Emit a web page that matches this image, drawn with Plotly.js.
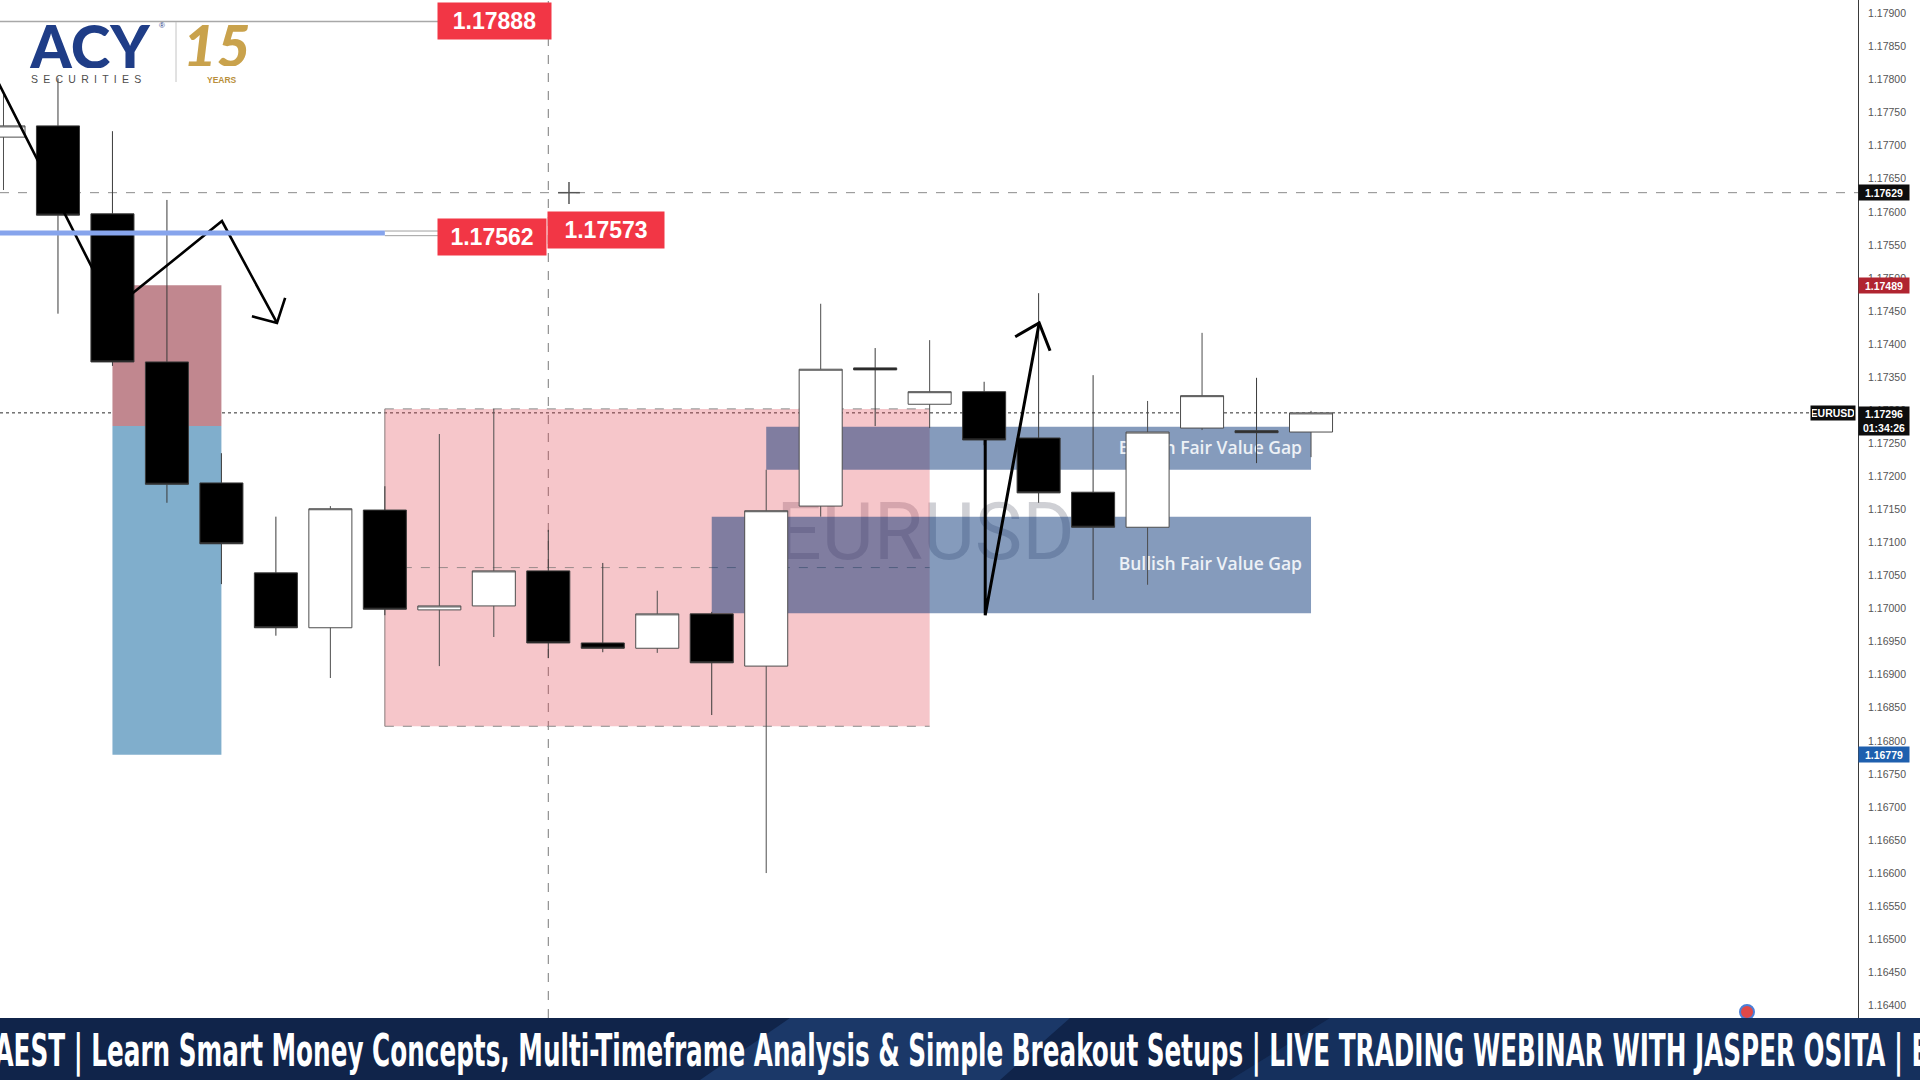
<!DOCTYPE html>
<html>
<head>
<meta charset="utf-8">
<script src="https://cdn.plot.ly/plotly-3.0.1.min.js"></script>
<style>
  html, body { margin: 0; padding: 0; background: #ffffff; overflow: hidden; }
  #chart { width: 1920px; height: 1080px; }
</style>
</head>
<body>
<div id="chart"></div>
<script>
// ---------------- data ----------------
const candleIndex = [0, 1, 2, 3, 4, 5, 6, 7, 8, 9, 10, 11, 12, 13, 14, 15, 16, 17, 18, 19, 20, 21, 22, 23, 24];
const openPrice  = [1.17713, 1.17730, 1.17597, 1.17373, 1.17190, 1.17054, 1.16971, 1.17149, 1.16998, 1.17004, 1.17057, 1.16948, 1.16940, 1.16992, 1.16913, 1.17155, 1.17364, 1.17309, 1.17328, 1.17258, 1.17176, 1.17123, 1.17273, 1.17269, 1.17267];
const highPrice  = [1.17781, 1.17802, 1.17722, 1.17618, 1.17235, 1.17139, 1.17155, 1.17185, 1.17264, 1.17302, 1.17119, 1.17069, 1.17027, 1.16995, 1.17210, 1.17461, 1.17394, 1.17406, 1.17343, 1.17477, 1.17353, 1.17314, 1.17417, 1.17349, 1.17299];
const lowPrice   = [1.17633, 1.17446, 1.17367, 1.17160, 1.17037, 1.16959, 1.16895, 1.16990, 1.16913, 1.16957, 1.16925, 1.16934, 1.16933, 1.16839, 1.16600, 1.17139, 1.17276, 1.17273, 1.17247, 1.17160, 1.17013, 1.17036, 1.17270, 1.17220, 1.17229];
const closePrice = [1.17730, 1.17595, 1.17373, 1.17188, 1.17098, 1.16971, 1.17151, 1.16999, 1.17004, 1.17057, 1.16948, 1.16940, 1.16992, 1.16918, 1.17148, 1.17362, 1.17361, 1.17328, 1.17255, 1.17175, 1.17123, 1.17267, 1.17322, 1.17266, 1.17296];

// price levels shown on the chart
const lastPrice = 1.17296;
const crossPrice = 1.17629;
const highLevel = 1.17888;
const blueLevel = 1.17562;
const blueLevelTag = 1.17573;
const positionStop = 1.17489;
const positionEntry = 1.17276;
const positionTarget = 1.16779;
const rangeZone = [1.16822, 1.17302];
const fvgUpper = [1.17210, 1.17275];
const fvgLower = [1.16993, 1.17139];
const yTickStart = 1.16400;
const yTickStep = 0.0005;

// hand-drawn arrow paths (candle index, price)
const arrowDownX = [-0.16, 2.01, 4.01, 5.02];
const arrowDownY = [1.17806, 1.17453, 1.17586, 1.17432];
const arrowDownHeadX = [4.56, 5.02, 5.17];
const arrowDownHeadY = [1.17442, 1.17432, 1.17470];
const arrowUpX = [18.02, 18.02, 19.01];
const arrowUpY = [1.17255, 1.16990, 1.17432];
const arrowUpHeadX = [18.57, 19.01, 19.21];
const arrowUpHeadY = [1.17411, 1.17432, 1.17390];

const bannerText = 'AEST | Learn Smart Money Concepts, Multi-Timeframe Analysis &amp; Simple Breakout Setups | LIVE TRADING WEBINAR WITH JASPER OSITA | E';

// ---------------- helpers for decoration placement (pixels -> paper) ----------------
const PW = 1858, PH = 1018;
const PX = v => v / PW;
const PY = v => 1 - v / PH;

const traces = [
  {
    type: 'candlestick',
    x: candleIndex, open: openPrice, high: highPrice, low: lowPrice, close: closePrice,
    increasing: { line: { color: '#4d4d4d', width: 1 }, fillcolor: '#ffffff' },
    decreasing: { line: { color: '#3a3a3a', width: 1 }, fillcolor: '#000000' },
    whiskerwidth: 0,
    hoverinfo: 'skip',
    showlegend: false
  },
  {
    type: 'scatter', mode: 'lines',
    x: arrowDownX.concat([null], arrowDownHeadX),
    y: arrowDownY.concat([null], arrowDownHeadY),
    line: { color: '#000000', width: 2.6 },
    hoverinfo: 'skip', showlegend: false
  },
  {
    type: 'scatter', mode: 'lines',
    x: arrowUpX.concat([null], arrowUpHeadX),
    y: arrowUpY.concat([null], arrowUpHeadY),
    line: { color: '#000000', width: 3 },
    hoverinfo: 'skip', showlegend: false
  }
];

const fvgLabel = {
  text: 'Bullish Fair Value Gap',
  textposition: 'middle right',
  padding: 6,
  font: { family: 'Open Sans, sans-serif', size: 17.5, color: '#edf1f6', weight: 600 }
};

const shapes = [
  // watermark
  { type: 'rect', layer: 'below', xref: 'x', yref: 'y', x0: 15.9, x1: 17.95, y0: 1.17095, y1: 1.17155,
    line: { width: 0 }, fillcolor: 'rgba(0,0,0,0)',
    label: { text: 'EURUSD', textposition: 'middle center',
             font: { family: 'Roboto, sans-serif', size: 80, color: 'rgba(95,100,115,0.30)' } } },
  // range zone
  { type: 'rect', layer: 'below', xref: 'x', yref: 'y', x0: 7, x1: 17, y0: rangeZone[0], y1: rangeZone[1],
    line: { width: 0 }, fillcolor: 'rgba(225,70,85,0.31)' },
  { type: 'line', layer: 'below', xref: 'x', yref: 'y', x0: 7, x1: 17, y0: rangeZone[1], y1: rangeZone[1],
    line: { color: '#8a8a8a', width: 1, dash: 'dash' } },
  { type: 'line', layer: 'below', xref: 'x', yref: 'y', x0: 7, x1: 17, y0: rangeZone[0], y1: rangeZone[0],
    line: { color: '#8a8a8a', width: 1, dash: 'dash' } },
  { type: 'line', layer: 'below', xref: 'x', yref: 'y', x0: 7, x1: 17, y0: (rangeZone[0] + rangeZone[1]) / 2, y1: (rangeZone[0] + rangeZone[1]) / 2,
    line: { color: '#9a8a8a', width: 1, dash: 'dash' } },
  { type: 'line', layer: 'below', xref: 'x', yref: 'y', x0: 7, x1: 7, y0: rangeZone[0], y1: rangeZone[1],
    line: { color: '#8a7a7a', width: 1 } },
  // short position tool
  { type: 'rect', layer: 'below', xref: 'x', yref: 'y', x0: 2, x1: 4, y0: positionEntry, y1: positionStop,
    line: { width: 0 }, fillcolor: '#c1878f' },
  { type: 'rect', layer: 'below', xref: 'x', yref: 'y', x0: 2, x1: 4, y0: positionTarget, y1: positionEntry,
    line: { width: 0 }, fillcolor: '#80aecc' },
  // fair value gaps
  { type: 'rect', layer: 'below', xref: 'x', yref: 'y', x0: 14, x1: 24, y0: fvgUpper[0], y1: fvgUpper[1],
    line: { width: 0 }, fillcolor: 'rgba(0,45,115,0.48)', label: fvgLabel },
  { type: 'rect', layer: 'below', xref: 'x', yref: 'y', x0: 13, x1: 24, y0: fvgLower[0], y1: fvgLower[1],
    line: { width: 0 }, fillcolor: 'rgba(0,45,115,0.48)', label: fvgLabel },
  // crosshair
  { type: 'line', layer: 'below', xref: 'x', yref: 'paper', x0: 10, x1: 10, y0: 0, y1: 1,
    line: { color: '#7a7a7a', width: 1, dash: 'dash' } },
  { type: 'line', layer: 'below', xref: 'paper', yref: 'y', x0: 0, x1: 1, y0: crossPrice, y1: crossPrice,
    line: { color: '#8a8a8a', width: 1, dash: 'dash' } },
  // last price line
  { type: 'line', layer: 'below', xref: 'paper', yref: 'y', x0: 0, x1: PX(1809), y0: lastPrice, y1: lastPrice,
    line: { color: '#2a2a2a', width: 1, dash: 'dot' } },
  // horizontal level rays
  { type: 'line', layer: 'above', xref: 'x', yref: 'y', x0: -1, x1: 8.02, y0: highLevel, y1: highLevel,
    line: { color: '#a8a8a8', width: 1.5 } },
  { type: 'line', layer: 'above', xref: 'x', yref: 'y', x0: -1, x1: 7.0, y0: 1.17568, y1: 1.17568,
    line: { color: '#86a4ec', width: 5 } },
  { type: 'line', layer: 'above', xref: 'x', yref: 'y', x0: 7.0, x1: 8.02, y0: 1.17571, y1: 1.17571,
    line: { color: '#a0a0a0', width: 1 } },
  { type: 'line', layer: 'above', xref: 'x', yref: 'y', x0: 7.0, x1: 8.02, y0: 1.17564, y1: 1.17564,
    line: { color: '#a0a0a0', width: 1 } },
  // cursor
  { type: 'line', layer: 'above', xref: 'x', yref: 'y', x0: 10.18, x1: 10.58, y0: crossPrice, y1: crossPrice,
    line: { color: '#555555', width: 1.5 } },
  { type: 'line', layer: 'above', xref: 'x', yref: 'y', x0: 10.38, x1: 10.38, y0: 1.17645, y1: 1.17612,
    line: { color: '#555555', width: 1.5 } },
  // logo separator
  { type: 'line', layer: 'above', xref: 'paper', yref: 'paper', x0: PX(176), x1: PX(176), y0: PY(22), y1: PY(82),
    line: { color: '#c4c4c4', width: 1 } },
  // small record icon
  { type: 'circle', layer: 'above', xref: 'paper', yref: 'paper', x0: PX(1740), x1: PX(1754), y0: PY(1019), y1: PY(1005),
    line: { color: '#4a7fd8', width: 2 }, fillcolor: '#e04848' },
  // bottom banner
  { type: 'rect', layer: 'above', xref: 'paper', yref: 'paper', x0: -0.01, x1: PX(1925), y0: PY(1085), y1: PY(1018),
    line: { width: 0 }, fillcolor: '#10244a' },
  { type: 'path', layer: 'above', xref: 'paper', yref: 'paper',
    path: 'M ' + PX(700) + ',' + PY(1080) + ' L ' + PX(790) + ',' + PY(1018) + ' L ' + PX(1070) + ',' + PY(1018) + ' L ' + PX(1000) + ',' + PY(1080) + ' Z',
    line: { width: 0 }, fillcolor: '#1b3868' },
  { type: 'path', layer: 'above', xref: 'paper', yref: 'paper',
    path: 'M ' + PX(1230) + ',' + PY(1080) + ' L ' + PX(1330) + ',' + PY(1018) + ' L ' + PX(1925) + ',' + PY(1018) + ' L ' + PX(1925) + ',' + PY(1080) + ' Z',
    line: { width: 0 }, fillcolor: '#15305d' }
];

const redTag = (text, price, anchor, shift, w) => ({
  xref: 'x', yref: 'y', x: 10, y: price, xanchor: anchor, yanchor: 'middle', xshift: shift,
  text: '<b>' + text + '</b>', showarrow: false, bgcolor: '#f23645',
  width: w, height: 28, borderpad: 4,
  font: { family: 'Liberation Sans, Arial, sans-serif', size: 23, color: '#ffffff' }
});

const axisTag = (text, price, bg, shift, h) => ({
  xref: 'paper', yref: 'y', x: 1, y: price, xanchor: 'left', yanchor: 'middle', yshift: shift,
  text: '<b>' + text + '</b>', showarrow: false, bgcolor: bg,
  width: 48, height: h, borderpad: 1,
  font: { family: 'Liberation Sans, Arial, sans-serif', size: 10.5, color: '#ffffff' }
});

const annotations = [
  redTag('1.17573', blueLevelTag, 'left', -1, 108),
  redTag('1.17888', highLevel, 'right', 4, 105),
  redTag('1.17562', blueLevel, 'right', -1, 100),
  axisTag('1.17629', crossPrice, '#0d0d0d', 0, 13),
  axisTag('1.17489', positionStop, '#b02430', 0, 13),
  axisTag('1.17296<br>01:34:26', lastPrice, '#0d0d0d', -8, 26),
  axisTag('1.16779', positionTarget, '#1e5fae', 0, 13),
  { xref: 'paper', yref: 'y', x: 1, y: lastPrice, xanchor: 'right', yanchor: 'middle', xshift: -2,
    text: '<b>EURUSD</b>', showarrow: false, bgcolor: '#0d0d0d', width: 42, height: 12, borderpad: 1,
    font: { family: 'Liberation Sans, Arial, sans-serif', size: 10.5, color: '#ffffff' } },
  // logo
  { xref: 'paper', yref: 'paper', x: PX(27), y: PY(46), xanchor: 'left', yanchor: 'middle', showarrow: false,
    text: 'ACY', height: 44, font: { family: 'Lato, sans-serif', size: 60, weight: 900, color: '#1f3d87' } },
  { xref: 'paper', yref: 'paper', x: PX(157), y: PY(25), xanchor: 'left', yanchor: 'middle', showarrow: false,
    text: '®', font: { family: 'Liberation Sans, Arial, sans-serif', size: 8, color: '#1f3d87' } },
  { xref: 'paper', yref: 'paper', x: PX(29), y: PY(79), xanchor: 'left', yanchor: 'middle', showarrow: false,
    text: 'S\u2002E\u2002C\u2002U\u2002R\u2002I\u2002T\u2002I\u2002E\u2002S',
    font: { family: 'Liberation Sans, Arial, sans-serif', size: 10.5, color: '#4d4d4d' } },
  { xref: 'paper', yref: 'paper', x: PX(181), y: PY(44), xanchor: 'left', yanchor: 'middle', showarrow: false,
    text: '<i>15</i>', height: 44, font: { family: 'Lato, sans-serif', size: 58, weight: 900, color: '#c9a24c' } },
  { xref: 'paper', yref: 'paper', x: PX(205), y: PY(80), xanchor: 'left', yanchor: 'middle', showarrow: false,
    text: '<b>YEARS</b>', font: { family: 'Liberation Sans, Arial, sans-serif', size: 8.5, color: '#b98f3c' } },
  // banner
  { xref: 'paper', yref: 'paper', x: PX(961), y: PY(1050), xanchor: 'center', yanchor: 'middle', showarrow: false,
    text: bannerText,
    font: { family: 'Liberation Sans Narrow, DejaVu Sans Condensed, sans-serif', size: 45, weight: 700, color: '#ffffff' } }
];

const layout = {
  width: 1920, height: 1080,
  margin: { l: 0, r: 62, t: 0, b: 62, pad: 0 },
  paper_bgcolor: '#ffffff', plot_bgcolor: '#ffffff',
  showlegend: false, hovermode: false, dragmode: false,
  boxgap: 0.21, boxgroupgap: 0,
  xaxis: {
    range: [-0.064, 34.04], visible: false, showgrid: false, zeroline: false,
    rangeslider: { visible: false }, fixedrange: true
  },
  yaxis: {
    side: 'right', range: [1.163808, 1.179204],
    tick0: yTickStart, dtick: yTickStep, tickformat: '.5f',
    showgrid: false, zeroline: false,
    showline: true, linecolor: '#3a3a3a', linewidth: 1,
    ticks: 'outside', ticklen: 7, tickcolor: 'rgba(0,0,0,0)',
    tickfont: { family: 'Liberation Sans, Arial, sans-serif', size: 10.5, color: '#555555' },
    fixedrange: true
  },
  shapes: shapes,
  annotations: annotations
};

Plotly.newPlot('chart', traces, layout, { displayModeBar: false, staticPlot: true }).then(gd => {
  gd.querySelectorAll('.annotation-text').forEach(t => {
    if (t.textContent.indexOf('AEST') === 0) {
      t.setAttribute('textLength', '1934');
      t.setAttribute('lengthAdjust', 'spacingAndGlyphs');
    }
  });
});
</script>
</body>
</html>
